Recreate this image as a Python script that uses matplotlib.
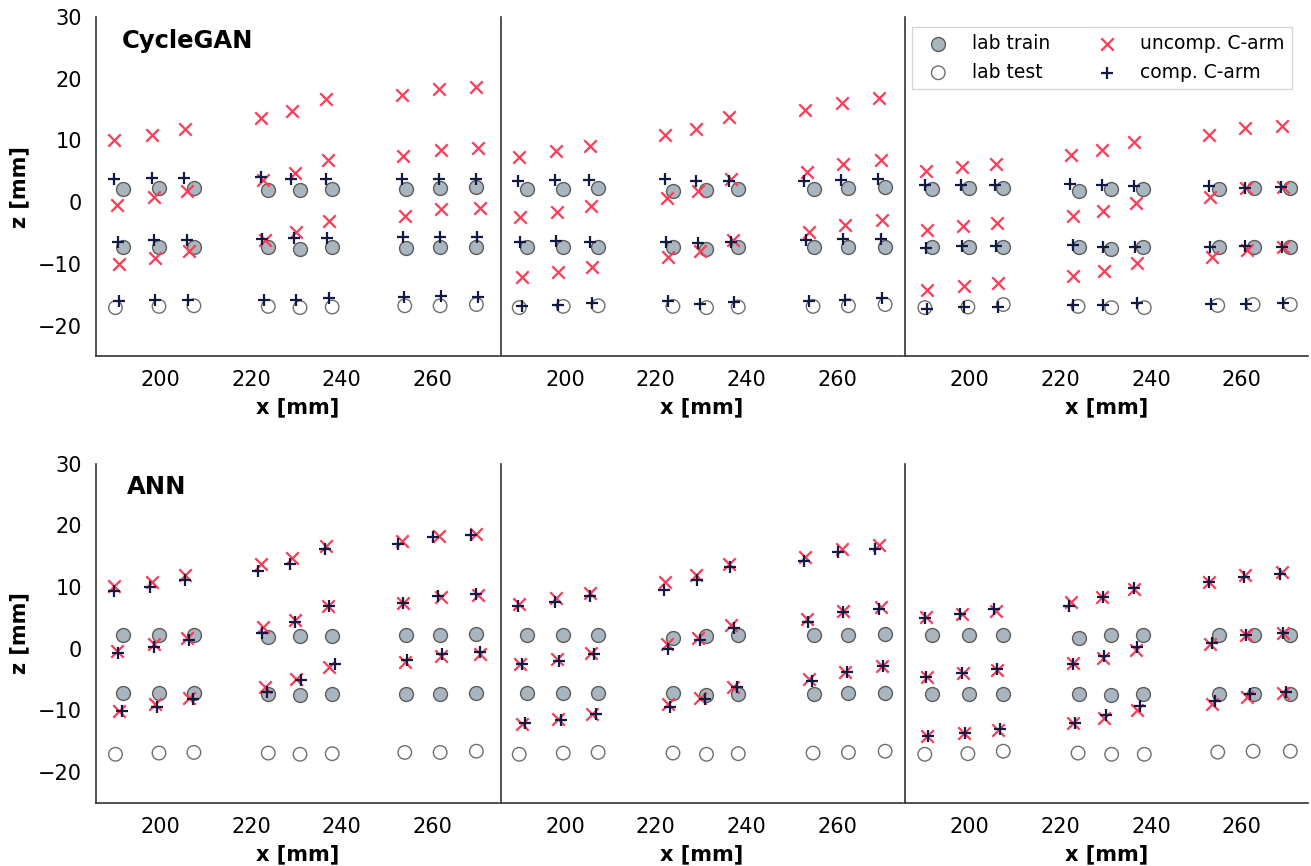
import matplotlib
matplotlib.use("Agg")
import matplotlib.pyplot as plt

# ===============================
# data (one inner list per column of panels)
# ===============================
train_x = [
    [191.7, 199.7, 207.4, 223.8, 230.8, 237.9, 254.2, 261.7, 269.7],
    [191.6, 199.5, 207.3, 223.9, 231.0, 238.2, 254.8, 262.5, 270.6],
    [191.7, 199.8, 207.4, 224.2, 231.2, 238.3, 254.9, 262.6, 270.7],
]
train_z_up = [
    [2.2, 2.3, 2.3, 1.9, 2.0, 2.05, 2.2, 2.3, 2.4],
    [2.2, 2.2, 2.3, 1.8, 2.0, 2.2, 2.2, 2.3, 2.4],
    [2.2, 2.3, 2.3, 1.8, 2.2, 2.2, 2.2, 2.3, 2.3],
]
train_z_low = [
    [-7.2, -7.2, -7.2, -7.3, -7.55, -7.3, -7.4, -7.3, -7.2],
    [-7.2, -7.2, -7.2, -7.2, -7.55, -7.3, -7.3, -7.2, -7.2],
    [-7.3, -7.3, -7.3, -7.3, -7.55, -7.35, -7.35, -7.3, -7.3],
]

test_x = [
    [190.1, 199.7, 207.4, 223.8, 230.8, 237.9, 253.9, 261.7, 269.7],
    [189.9, 199.6, 207.3, 223.8, 231.2, 238.2, 254.7, 262.5, 270.6],
    [190.1, 199.6, 207.4, 223.9, 231.3, 238.5, 254.7, 262.5, 270.7],
]
test_z = [
    [-17.1, -16.9, -16.8, -16.9, -17.1, -17.0, -16.8, -16.8, -16.6],
    [-17.1, -16.9, -16.8, -16.9, -17.1, -17.0, -16.9, -16.8, -16.6],
    [-17.1, -17.0, -16.6, -16.9, -17.1, -17.1, -16.75, -16.6, -16.6],
]

# uncompensated C-arm (same in both rows)
uncomp_x = [
    [189.7, 198.1, 205.4, 222.3, 229.1, 236.6, 253.3, 261.5, 269.7,
     190.4, 198.5, 205.9, 222.7, 229.6, 236.9, 253.6, 261.8, 270.1,
     190.9, 198.9, 206.3, 223.1, 230.0, 237.3, 253.9, 262.0, 270.5],
    [189.9, 197.9, 205.4, 222.1, 228.9, 236.2, 252.9, 261.0, 269.2,
     190.1, 198.2, 205.7, 222.5, 229.3, 236.7, 253.3, 261.3, 269.7,
     190.5, 198.5, 206.0, 222.8, 229.8, 237.1, 253.8, 261.8, 270.0],
    [190.3, 198.4, 205.7, 222.3, 229.2, 236.3, 252.7, 260.6, 268.9,
     190.5, 198.6, 206.0, 222.7, 229.5, 236.7, 253.1, 261.0, 269.0,
     190.6, 198.7, 206.3, 222.8, 229.7, 237.0, 253.4, 261.2, 269.2],
]
uncomp_z = [
    [10.1, 10.9, 11.9, 13.7, 14.7, 16.7, 17.4, 18.3, 18.6,
     -0.4, 0.8, 1.8, 3.6, 4.7, 6.9, 7.4, 8.4, 8.7,
     -10.1, -9.0, -8.0, -6.2, -4.9, -3.0, -2.2, -1.1, -0.9],
    [7.3, 8.3, 9.1, 10.8, 11.9, 13.8, 14.9, 16.1, 16.8,
     -2.4, -1.6, -0.7, 0.7, 1.8, 3.8, 4.8, 6.2, 6.8,
     -12.2, -11.35, -10.5, -8.9, -8.0, -6.2, -4.9, -3.7, -2.85],
    [5.1, 5.7, 6.2, 7.6, 8.4, 9.7, 10.9, 12.0, 12.4,
     -4.5, -3.9, -3.4, -2.3, -1.5, -0.2, 0.8, 2.3, 2.5,
     -14.2, -13.6, -13.1, -12.0, -11.2, -9.9, -8.9, -7.8, -7.2],
]

# compensated C-arm, CycleGAN
gan_x = [
    [189.7, 198.1, 205.3, 222.2, 228.9, 236.5, 253.3, 261.4, 269.7,
     190.6, 198.5, 205.8, 222.5, 229.5, 236.8, 253.5, 261.6, 269.9,
     190.9, 198.8, 206.2, 222.9, 229.9, 237.3, 253.8, 261.9, 270.0],
    [189.7, 197.8, 205.2, 222.0, 228.8, 236.2, 252.7, 260.8, 269.1,
     190.1, 198.1, 205.5, 222.3, 229.3, 236.7, 253.2, 261.2, 269.6,
     190.5, 198.5, 206.0, 222.8, 229.7, 237.3, 253.8, 261.8, 269.9],
    [190.1, 198.1, 205.5, 222.1, 229.1, 236.2, 252.7, 260.6, 268.7,
     190.3, 198.4, 205.7, 222.7, 229.5, 236.5, 253.0, 260.8, 268.9,
     190.6, 198.7, 206.3, 222.8, 229.5, 237.0, 253.3, 261.0, 269.1],
]
gan_z = [
    [3.8, 3.9, 3.9, 4.05, 3.8, 3.7, 3.8, 3.7, 3.8,
     -6.4, -6.1, -6.1, -6.05, -5.8, -5.8, -5.7, -5.7, -5.7,
     -16.05, -15.9, -15.9, -15.8, -15.9, -15.5, -15.4, -15.2, -15.4],
    [3.5, 3.6, 3.6, 3.8, 3.5, 3.4, 3.5, 3.6, 3.7,
     -6.5, -6.3, -6.4, -6.4, -6.6, -6.4, -6.2, -5.9, -5.9,
     -16.9, -16.6, -16.4, -16.05, -16.5, -16.2, -16.05, -15.8, -15.6],
    [2.7, 2.8, 2.8, 3.0, 2.7, 2.6, 2.6, 2.3, 2.4,
     -7.4, -7.1, -7.1, -7.0, -7.3, -7.3, -7.3, -7.1, -7.3,
     -17.3, -17.0, -17.0, -16.75, -16.75, -16.4, -16.5, -16.5, -16.4],
]

# compensated C-arm, ANN
ann_x = [
    [189.7, 197.8, 205.4, 221.6, 228.7, 236.2, 252.3, 260.2, 268.5,
     190.7, 198.7, 206.3, 222.5, 229.8, 237.3, 253.5, 261.3, 269.7,
     191.5, 199.3, 207.3, 223.6, 231.0, 238.5, 254.4, 262.2, 270.4],
    [189.7, 197.8, 205.4, 221.8, 229.1, 236.3, 252.7, 260.3, 268.4,
     190.5, 198.6, 206.3, 222.7, 229.8, 237.2, 253.5, 261.2, 269.3,
     191.2, 199.2, 206.9, 223.2, 230.9, 237.9, 254.4, 262.1, 270.2],
    [190.1, 197.9, 205.4, 221.8, 229.3, 236.3, 252.7, 260.4, 268.5,
     190.4, 198.4, 206.1, 222.7, 229.7, 236.9, 253.4, 261.0, 269.1,
     190.9, 199.0, 206.6, 223.2, 230.1, 237.6, 254.0, 261.9, 269.7],
]
ann_z = [
    [9.35, 10.0, 11.1, 12.6, 13.7, 16.2, 16.9, 18.1, 18.5,
     -0.7, 0.3, 1.4, 2.6, 4.3, 6.9, 7.4, 8.5, 8.9,
     -10.1, -9.45, -8.2, -7.0, -5.0, -2.4, -1.9, -0.8, -0.5],
    [6.9, 7.6, 8.5, 9.6, 11.1, 13.2, 14.2, 15.6, 16.2,
     -2.4, -2.0, -0.9, 0.0, 1.5, 3.4, 4.3, 5.9, 6.5,
     -12.1, -11.6, -10.5, -9.5, -8.1, -6.2, -5.2, -3.8, -2.85],
    [5.0, 5.7, 6.4, 7.0, 8.4, 9.8, 10.8, 11.7, 12.1,
     -4.5, -3.9, -3.2, -2.4, -1.2, 0.3, 0.9, 2.2, 2.5,
     -14.2, -13.6, -12.95, -12.0, -10.8, -9.3, -8.4, -7.4, -7.0],
]

row_names = ["CycleGAN", "ANN"]
row_comp = [(gan_x, gan_z), (ann_x, ann_z)]

# ===============================
# plot
# ===============================
plt.rcParams["font.family"] = "DejaVu Sans"

fig, axes = plt.subplots(
    2, 3, figsize=(13.11, 8.66), dpi=100, sharey=True,
    gridspec_kw=dict(left=0.0732, right=0.9977, top=0.9804, bottom=0.0727,
                     wspace=0.005, hspace=0.316),
)

for r in range(2):
    cx, cz = row_comp[r]
    for c in range(3):
        ax = axes[r, c]
        ax.scatter(train_x[c] + train_x[c], train_z_up[c] + train_z_low[c],
                   s=100, marker="o", facecolor="#a9b6bf", edgecolor="#5c5c5c",
                   linewidth=1.0, label="lab train", zorder=2)
        ax.scatter(test_x[c], test_z[c], s=95, marker="o", facecolor="none",
                   edgecolor="#6e6e6e", linewidth=1.0, label="lab test", zorder=2)
        ax.scatter(uncomp_x[c], uncomp_z[c], s=80, marker="x", color="#ff3b55",
                   linewidth=1.6, label="uncomp. C-arm", zorder=3)
        ax.scatter(cx[c], cz[c], s=85, marker="+", color="#111a45",
                   linewidth=1.6, label="comp. C-arm", zorder=4)

        ax.set_xlim(185.8, 274.6)
        ax.set_ylim(-25, 30)
        ax.set_xticks([200, 220, 240, 260])
        ax.set_yticks([-20, -10, 0, 10, 20, 30])
        ax.tick_params(length=0, pad=10, labelsize=15)
        for side in ["top", "right"]:
            ax.spines[side].set_visible(False)
        for side in ["left", "bottom"]:
            ax.spines[side].set_color("#333333")
            ax.spines[side].set_linewidth(1.2)
        ax.set_xlabel("x [mm]", fontsize=15, fontweight="bold", labelpad=5)
        if c == 0:
            ax.set_ylabel("z [mm]", fontsize=15, fontweight="bold", labelpad=6)
            ax.text(0.065 if r == 0 else 0.077, 0.93, row_names[r],
                    transform=ax.transAxes, fontsize=17.5, fontweight="bold",
                    va="center", ha="left")

handles, labels = axes[0, 2].get_legend_handles_labels()
axes[0, 2].legend(handles, labels,
                  ncol=2, loc="upper right", bbox_to_anchor=(0.961, 0.971),
                  borderaxespad=0, fontsize=13.5, frameon=True, fancybox=False,
                  edgecolor="#cccccc")

plt.savefig("out.png", dpi=100)
